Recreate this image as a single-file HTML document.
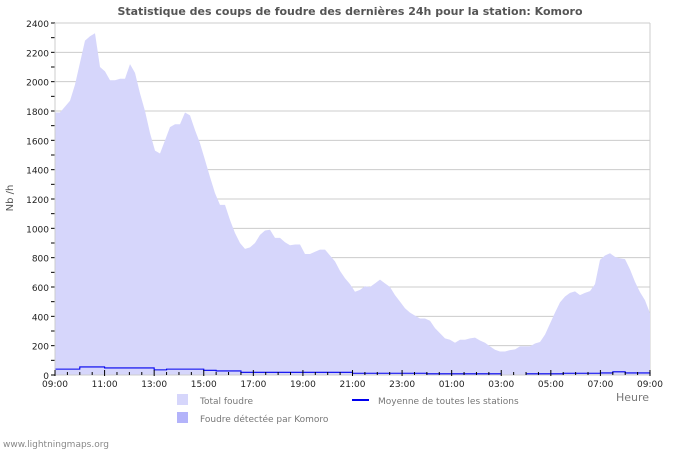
<!DOCTYPE html>
<html><head><meta charset="utf-8"><style>
body{margin:0;background:#fff;font-family:"DejaVu Sans","Liberation Sans",sans-serif}
svg text{font-family:"DejaVu Sans","Liberation Sans",sans-serif}
</style></head><body>
<svg id="c" width="700" height="450" xmlns="http://www.w3.org/2000/svg">
<text x="350" y="15" text-anchor="middle" font-size="11" font-weight="bold" fill="#555">Statistique des coups de foudre des dernières 24h pour la station: Komoro</text>
<text transform="translate(13,198) rotate(-90)" text-anchor="middle" font-size="10" fill="#555">Nb /h</text>
<text x="616" y="401" font-size="11" fill="#777">Heure</text>
<g id="grid"></g><g id="area"></g><g id="avg"></g><g id="axes"></g>
<rect x="177" y="394" width="11" height="11" fill="#d6d6fb"/>
<text x="200" y="404" font-size="9" fill="#777">Total foudre</text>
<rect x="177" y="412" width="11" height="11" fill="#b3b3fa"/>
<text x="200" y="422" font-size="9" fill="#777">Foudre détectée par Komoro</text>
<line x1="352" y1="400" x2="369" y2="400" stroke="#0000ee" stroke-width="2"/>
<text x="378" y="404" font-size="9" fill="#777">Moyenne de toutes les stations</text>
<text x="3" y="447" font-size="9" fill="#888">www.lightningmaps.org</text>
</svg>
<script>
const totalValues=[1790,1790,1830,1870,1980,2130,2280,2310,2330,2100,2070,2010,2010,2020,2020,2120,2060,1920,1800,1650,1530,1510,1600,1690,1710,1710,1790,1770,1670,1580,1466,1350,1240,1160,1160,1057,968,900,860,870,900,955,985,990,935,935,905,885,890,890,825,825,840,855,855,815,775,710,660,620,568,580,605,600,625,650,625,600,545,500,455,425,405,385,385,370,320,285,250,240,220,240,240,250,255,235,220,195,172,160,160,170,175,195,195,195,215,225,275,350,425,495,535,560,570,545,560,572,620,785,815,830,805,795,790,720,635,565,510,420];
const avgValues=[40,40,55,55,48,48,48,48,35,40,40,40,32,28,28,18,18,18,18,18,18,18,18,18,12,12,12,12,12,12,8,8,8,8,8,8,null,null,8,8,8,12,12,12,14,22,14,14,5];
const xTickLabels=["09:00","11:00","13:00","15:00","17:00","19:00","21:00","23:00","01:00","03:00","05:00","07:00","09:00"];
const yTicks=[0,200,400,600,800,1000,1200,1400,1600,1800,2000,2200,2400];
const X0=55,X1=650,Y0=375,Y1=23,YMAX=2400;
const xh=h=>X0+(X1-X0)*h/24;
const y=v=>Y0-(Y0-Y1)*v/YMAX;
const NS="http://www.w3.org/2000/svg";
function mk(tag,attrs,parent){const e=document.createElementNS(NS,tag);for(const k in attrs)e.setAttribute(k,attrs[k]);document.getElementById(parent).appendChild(e);return e;}
yTicks.forEach(v=>{
 if(v>0){const g=mk('line',{x1:X0,x2:X1,y1:y(v),y2:y(v),stroke:'#ccc','stroke-width':1},'grid');
 
 }
 const t=mk('text',{x:X0-6,y:y(v)+4,'text-anchor':'end','font-size':9,fill:'#222'},'axes');t.textContent=v;
 
 
 mk('line',{x1:X0-4,x2:X0,y1:y(v),y2:y(v),stroke:'#000'},'axes');
 if(v<YMAX)mk('line',{x1:X0-4,x2:X0,y1:y(v+100),y2:y(v+100),stroke:'#000'},'axes');
});
mk('line',{x1:X1,x2:X1,y1:Y1,y2:Y0,stroke:'#ccc'},'grid');
const n=totalValues.length;
let d=`M${X0},${Y0}`;
totalValues.forEach((v,i)=>{d+=` L${X0+(X1-X0)*i/(n-1)},${y(v)}`;});
d+=` L${X1},${Y0} Z`;
const a=mk('path',{d:d,fill:'#d6d6fb'},'area');


let p='',pen=false;
avgValues.forEach((v,i)=>{
 const xa=xh(i*0.5),xb=xh(Math.min(24,(i+1)*0.5));
 if(v===null){pen=false;return;}
 p+=(pen?` L${xa},${y(v)}`:` M${xa},${y(v)}`)+` L${xb},${y(v)}`;pen=true;
});
const l=mk('path',{d:p,fill:'none',stroke:'#0000ee','stroke-width':1.1},'avg');


mk('line',{x1:X0,x2:X1,y1:Y0,y2:Y0,stroke:'#ccc'},'axes');
mk('line',{x1:X0,x2:X0,y1:Y1,y2:Y0,stroke:'#ccc'},'axes');
for(let i=0;i<=48;i++){
 const x=xh(i*0.5),maj=i%4===0;
 mk('line',{x1:x,x2:x,y1:Y0-(maj?5:3),y2:Y0+(maj?1:0),stroke:'#000'},'axes');
}
xTickLabels.forEach((s,i)=>{
 const t=mk('text',{x:xh(i*2),y:Y0+12,'text-anchor':'middle','font-size':9,fill:'#222'},'axes');t.textContent=s;
 
 
});
</script>
</body></html>
